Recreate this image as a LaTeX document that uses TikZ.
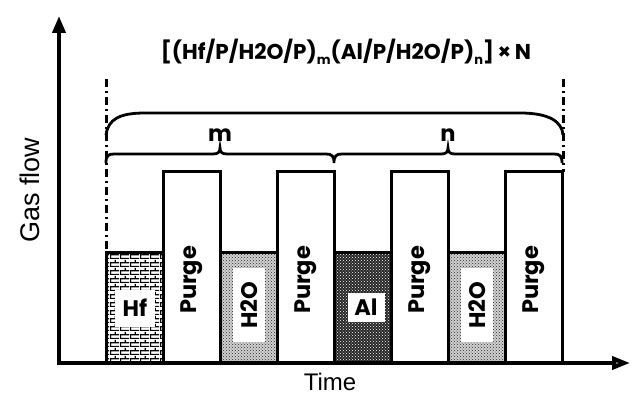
\documentclass[tikz,border=0pt]{standalone}
\usepackage{fontspec}
\setmainfont{Liberation Sans}
\newfontfamily\geo{Poppins}
\usetikzlibrary{arrows.meta,patterns}
\pgfdeclarepatternformonly{mybricks}{\pgfpointorigin}{\pgfpoint{10pt}{8pt}}{\pgfpoint{10pt}{8pt}}{%
  \pgfsetlinewidth{1.3pt}%
  \pgfpathmoveto{\pgfpoint{0pt}{0.7pt}}\pgfpathlineto{\pgfpoint{10pt}{0.7pt}}%
  \pgfpathmoveto{\pgfpoint{0pt}{4.7pt}}\pgfpathlineto{\pgfpoint{10pt}{4.7pt}}%
  \pgfpathmoveto{\pgfpoint{0.7pt}{0.7pt}}\pgfpathlineto{\pgfpoint{0.7pt}{4.7pt}}%
  \pgfpathmoveto{\pgfpoint{5.7pt}{4.7pt}}\pgfpathlineto{\pgfpoint{5.7pt}{8pt}}%
  \pgfusepath{stroke}}
\tikzset{
  axis/.style={line width=4pt},
  bar/.style={line width=3pt, fill=white},
  barline/.style={line width=3pt},
  brc/.style={line width=2.8pt},
  dashdot/.style={line width=3pt, dash pattern=on 8pt off 4pt on 2pt off 4pt},
  bartext/.style={font=\geo\bfseries\fontsize{22.5}{22.5}\selectfont, inner sep=1pt},
  wbox/.style={fill=white, inner sep=0pt},
}
\begin{document}
\begin{tikzpicture}[x=1pt,y=1pt]
\useasboundingbox (0,0) rectangle (632,394);
\def\yb{31}\def\ylow{141}\def\yhigh{222}
% Hf
\fill[white] (106,\yb) rectangle (163,\ylow);
\fill[pattern=mybricks] (106,\yb) rectangle (163,\ylow);
\draw[barline] (106,\yb) rectangle (163,\ylow);
% Purge 1
\draw[bar] (163,\yb) rectangle (220,\yhigh);
% H2O 1
\fill[black!18] (220,\yb) rectangle (277,\ylow);
\fill[pattern=crosshatch dots, pattern color=black!85] (220,\yb) rectangle (277,\ylow);
\draw[barline] (220,\yb) rectangle (277,\ylow);
% Purge 2
\draw[bar] (277,\yb) rectangle (334,\yhigh);
% Al
\fill[black!85] (334,\yb) rectangle (391,\ylow);
\fill[pattern=crosshatch dots, pattern color=white] (334,\yb) rectangle (391,\ylow);
\draw[barline] (334,\yb) rectangle (391,\ylow);
% Purge 3
\draw[bar] (391,\yb) rectangle (448,\yhigh);
% H2O 2
\fill[black!18] (448,\yb) rectangle (505,\ylow);
\fill[pattern=crosshatch dots, pattern color=black!85] (448,\yb) rectangle (505,\ylow);
\draw[barline] (448,\yb) rectangle (505,\ylow);
% Purge 4
\draw[bar] (505,\yb) rectangle (562,\yhigh);
% labels in bars
\node[wbox, minimum width=40pt, minimum height=37pt] (hfbox) at (135,86) {};
\node[bartext] (hf) at (hfbox) {Hf};
\node[wbox, minimum width=37pt, minimum height=29pt] (albox) at (366,87) {};
\node[bartext] (al) at (albox) {Al};
\node[wbox, minimum width=32pt, minimum height=74pt] (hobox1) at (249,89) {};
\node[bartext, rotate=90] (ho1) at (hobox1) {H2O};
\node[wbox, minimum width=32pt, minimum height=74pt] (hobox2) at (477,89) {};
\node[bartext, rotate=90] (ho2) at (hobox2) {H2O};
\node[bartext, rotate=90] (p1) at (191.5,114) {Purge};
\node[bartext, rotate=90] (p2) at (305.5,114) {Purge};
\node[bartext, rotate=90] (p3) at (419.5,114) {Purge};
\node[bartext, rotate=90] (p4) at (533.5,114) {Purge};
% dash-dot lines
\coordinate (dl1) at (106,315); \coordinate (dl2) at (106,141);
\coordinate (dr1) at (563,315); \coordinate (dr2) at (563,222);
\draw[dashdot] (dl1) -- (dl2);
\draw[dashdot] (dr1) -- (dr2);
% braces
\draw[brc] (106,259) .. controls (108,275) and (120,281) .. (145,281) -- (520,281) .. controls (550,281) and (562,272) .. (563,259);
\draw[brc] (106,231) .. controls (106,238) and (108,240) .. (114,240) -- (213,240) .. controls (218,240) and (220,242) .. (220,246) .. controls (220,242) and (222,240) .. (227,240) -- (326,240) .. controls (332,240) and (334,238) .. (334,231) .. controls (334,238) and (336,240) .. (342,240) -- (441,240) .. controls (446,240) and (448,242) .. (448,246) .. controls (448,242) and (450,240) .. (455,240) -- (554,240) .. controls (560,240) and (562,238) .. (562,231);
\node[bartext] (m) at (220,259) {m};
\node[bartext] (n) at (448,259) {n};
% title
\node[font=\geo\bfseries\fontsize{21.5}{21.5}\selectfont, inner sep=0pt] (title) at (346,342)
 {[(Hf/P/H2O/P)\raisebox{-0.35ex}{\fontsize{13}{13}\selectfont m}(Al/P/H2O/P)\raisebox{-0.35ex}{\fontsize{13}{13}\selectfont n}]\,×\,N};
% axes
\coordinate (o) at (59,31);
\coordinate (ytop) at (59,378);
\coordinate (xend) at (630,31);
\draw[axis, -{Triangle[length=17pt,width=13pt]}] (59,29) -- (ytop);
\draw[axis, -{Triangle[length=18pt,width=13pt,fill=black!40]}] (57,31) -- (xend);
\node[font=\fontsize{27}{27}\selectfont, rotate=90] (gas) at (30,204) {Gas flow};
\node[font=\fontsize{24}{24}\selectfont, inner sep=0pt] (time) at (330,12.5) {Time};
\end{tikzpicture}
\end{document}
